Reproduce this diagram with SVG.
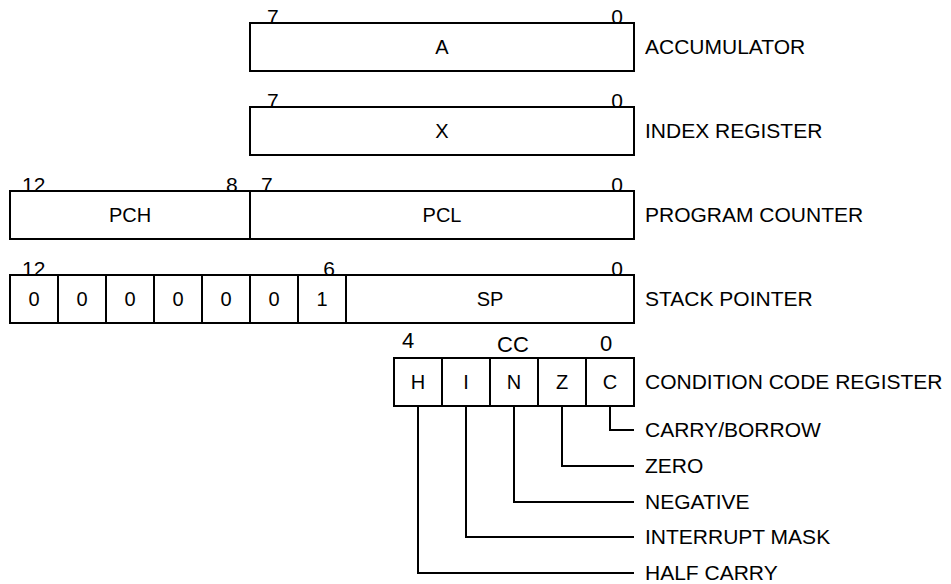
<svg xmlns="http://www.w3.org/2000/svg" width="951" height="584" viewBox="0 0 951 584">
<style>
rect, line, path { fill: none; stroke: #000; stroke-width: 2; }
rect.bg { fill: #fff; stroke: none; }
text { font-family: "Liberation Sans", Arial, sans-serif; fill: #000; }
.lbl { font-size: 20px; text-anchor: middle; }
.bit { font-size: 21px; }
.mid { text-anchor: middle; }
.name { font-size: 21px; }
.cc { font-size: 22px; text-anchor: middle; }
</style>
<rect class="bg" x="0" y="0" width="951" height="584"/>

<g id="accumulator">
  <rect x="250" y="23" width="384" height="48"/>
  <text class="lbl" x="442" y="54">A</text>
  <text class="bit" x="267" y="24">7</text>
  <text class="bit mid" x="617" y="24">0</text>
  <text class="name" x="645" y="54">ACCUMULATOR</text>
</g>

<g id="index-register">
  <rect x="250" y="107" width="384" height="48"/>
  <text class="lbl" x="442" y="138">X</text>
  <text class="bit" x="267" y="108">7</text>
  <text class="bit mid" x="617" y="108">0</text>
  <text class="name" x="645" y="138">INDEX REGISTER</text>
</g>

<g id="program-counter">
  <rect x="10" y="191" width="624" height="48"/>
  <line x1="250" y1="191" x2="250" y2="239"/>
  <text class="lbl" x="130" y="222">PCH</text>
  <text class="lbl" x="442" y="222">PCL</text>
  <text class="bit" x="22" y="192">12</text>
  <text class="bit" x="226" y="192">8</text>
  <text class="bit" x="261" y="192">7</text>
  <text class="bit mid" x="617" y="192">0</text>
  <text class="name" x="645" y="222">PROGRAM COUNTER</text>
</g>

<g id="stack-pointer">
  <rect x="10" y="275" width="624" height="48"/>
  <line x1="58" y1="275" x2="58" y2="323"/>
  <line x1="106" y1="275" x2="106" y2="323"/>
  <line x1="154" y1="275" x2="154" y2="323"/>
  <line x1="202" y1="275" x2="202" y2="323"/>
  <line x1="250" y1="275" x2="250" y2="323"/>
  <line x1="298" y1="275" x2="298" y2="323"/>
  <line x1="346" y1="275" x2="346" y2="323"/>
  <text class="lbl" x="34" y="306">0</text>
  <text class="lbl" x="82" y="306">0</text>
  <text class="lbl" x="130" y="306">0</text>
  <text class="lbl" x="178" y="306">0</text>
  <text class="lbl" x="226" y="306">0</text>
  <text class="lbl" x="274" y="306">0</text>
  <text class="lbl" x="322" y="306">1</text>
  <text class="lbl" x="490" y="306">SP</text>
  <text class="bit" x="22" y="276">12</text>
  <text class="bit mid" x="329" y="276">6</text>
  <text class="bit mid" x="617" y="276">0</text>
  <text class="name" x="645" y="306">STACK POINTER</text>
</g>

<g id="condition-code-register">
  <rect x="394" y="358" width="240" height="48"/>
  <line x1="442" y1="358" x2="442" y2="406"/>
  <line x1="490" y1="358" x2="490" y2="406"/>
  <line x1="538" y1="358" x2="538" y2="406"/>
  <line x1="586" y1="358" x2="586" y2="406"/>
  <text class="lbl" x="418" y="389">H</text>
  <text class="lbl" x="466" y="389">I</text>
  <text class="lbl" x="514" y="389">N</text>
  <text class="lbl" x="562" y="389">Z</text>
  <text class="lbl" x="610" y="389">C</text>
  <text class="cc" x="408" y="348">4</text>
  <text class="cc" x="513" y="352">CC</text>
  <text class="cc" x="606" y="351">0</text>
  <text class="name" x="645" y="389">CONDITION CODE REGISTER</text>
</g>

<g id="connectors">
  <path d="M610 406 V430 H634"/>
  <path d="M562 406 V466 H634"/>
  <path d="M514 406 V502 H634"/>
  <path d="M466 406 V537 H634"/>
  <path d="M418 406 V573 H634"/>
</g>

<g id="flag-labels">
  <text class="name" x="645" y="437">CARRY/BORROW</text>
  <text class="name" x="645" y="473">ZERO</text>
  <text class="name" x="645" y="509">NEGATIVE</text>
  <text class="name" x="645" y="544">INTERRUPT MASK</text>
  <text class="name" x="645" y="580">HALF CARRY</text>
</g>
</svg>
